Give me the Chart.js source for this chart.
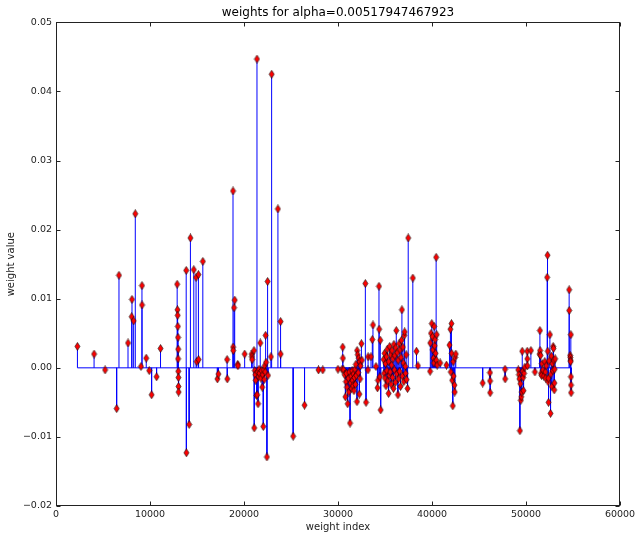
<!DOCTYPE html>
<html>
<head>
<meta charset="utf-8">
<script src="https://cdn.jsdelivr.net/npm/chart.js@4/dist/chart.umd.min.js"></script>
<style>
  html, body { margin: 0; padding: 0; background: #fff; }
</style>
</head>
<body>
<canvas id="weightsChart" width="638" height="534"></canvas>
<script>
// weight index / value pairs
const weightIndex = [
  2280, 4050, 5220, 6450, 6700, 7660, 8050, 8085, 8260, 8435, 9040, 9145, 9150, 9600, 9920, 10170, 10700, 11120,
  12890, 12920, 12940, 12960, 12980, 13000, 12990, 13010, 13020, 13030, 13040,
  13850, 13870, 14165, 14300, 14660, 14900, 14980, 15150, 15170, 15620, 17170, 17280, 18200, 18220,
  18830, 18840, 18850, 18940, 19010, 19330, 19350, 20070,
  20820, 20840, 20860, 21060, 21090, 21150, 21200, 21250, 21330, 21380, 21400, 21450, 21490, 21550, 21600, 21650,
  21730, 21800, 21850, 21940, 22000, 22050, 22100, 22150, 22200, 22250, 22300, 22350, 22440, 22510, 22550,
  22860, 22940, 23610, 23890, 23900, 25230, 26440, 27920, 28380, 30000,
  30430, 30500, 30520, 30600, 30700, 30790, 30850, 30900, 30950, 31030, 31100, 31150, 31200, 31280, 31350, 31400,
  31450, 31500, 31550, 31600, 31650, 31700, 31750, 31800, 31850, 31900, 31950, 32020, 32030, 32100, 32150, 32200,
  32270, 32300, 32350, 32400, 32490, 32550, 32910, 32980, 33190, 33200, 33510, 33650, 33720, 34040, 34200, 34250,
  34360, 34380, 34450, 34500, 34540,
  34850, 34900, 34950, 35000, 35050, 35100, 35150, 35200, 35250, 35300, 35380, 35400, 35450, 35500, 35550, 35600,
  35650, 35700, 35750, 35800, 35850, 35900, 35950, 36000, 36050, 36100, 36150, 36200, 36250, 36300, 36370, 36400,
  36450, 36500, 36550, 36600, 36650, 36700, 36750, 36800, 36850, 36900, 36950, 37000, 37050, 37090, 37150, 37200,
  37250, 37300, 37400, 37470, 37960, 38350, 38500,
  39800, 39820, 39900, 39980, 40050, 40100, 40150, 40200, 40230, 40280, 40320, 40380, 40440, 40460, 40500, 40550, 40870,
  41540, 41860, 41960, 42000, 42070, 42100, 42150, 42210, 42250, 42300, 42390, 42420, 42450, 42530,
  45390, 46170, 46180, 46190, 47770, 47780,
  49180, 49250, 49300, 49350, 49400, 49450, 49500, 49550, 49600, 49650, 49700, 49740, 49800, 49880,
  50130, 50140, 50150, 50520, 50950,
  51440, 51480, 51500, 51550, 51600, 51650, 51700, 51800, 51900, 52000, 52050, 52100, 52150, 52250, 52290, 52320,
  52350, 52380, 52400, 52450, 52540, 52610, 52650, 52700, 52750, 52800, 52850, 52890, 52930, 52970, 53000, 53020,
  53050, 53100,
  54590, 54600, 54700, 54720, 54740, 54750, 54770, 54780, 54790, 54800
];

const weightValue = [
  0.0031, 0.0020, -0.0003, -0.0059, 0.0134, 0.0036, 0.0074, 0.0099, 0.0068, 0.0223, 0.0002, 0.0119, 0.0091, 0.0014, -0.0004, -0.0039, -0.0013, 0.0028,
  0.0121, 0.0084, 0.0076, 0.0060, 0.0044, 0.0027, 0.0013, -0.0005, -0.0014, -0.0027, -0.0035,
  0.0141, -0.0123, -0.0082, 0.0188, 0.0142, 0.0131, 0.0009, 0.0135, 0.0012, 0.0154, -0.0016, -0.0009, 0.0012, -0.0016,
  0.0256, 0.0030, 0.0025, 0.0087, 0.0098, 0.0005, 0.0003, 0.0020,
  0.0020, 0.0016, 0.0012, 0.0025, -0.0087, -0.0004, -0.0010, -0.0018, -0.0040, 0.0447, -0.0039, -0.0006, -0.0052, -0.0013, -0.0002, -0.0008,
  0.0036, -0.0015, -0.0004, -0.0028, -0.0010, -0.0085, -0.0003, -0.0017, 0.0003, -0.0006, 0.0047, 0.0008, -0.0129, 0.0125, -0.0011,
  0.0016, 0.0425, 0.0230, 0.0067, 0.0020, -0.0099, -0.0054, -0.0003, -0.0003, -0.0002,
  -0.0002, 0.0030, 0.0014, -0.0003, -0.0010, -0.0042, -0.0020, -0.0008, -0.0028, -0.0052, -0.0015, -0.0035, -0.0006, -0.0080, -0.0022, -0.0012,
  -0.0030, -0.0004, -0.0018, -0.0026, -0.0009, -0.0033, -0.0014, -0.0002, -0.0024, 0.0005, -0.0011, -0.0049, 0.0025, 0.0019, -0.0007, 0.0014,
  -0.0038, 0.0009, -0.0016, 0.0003, 0.0035, 0.0011, 0.0122, -0.0050, -0.0003, 0.0016, 0.0016, 0.0041, 0.0062, 0.0002, -0.0029, -0.0018,
  0.0118, 0.0056, -0.0013, 0.0040, -0.0061,
  0.0012, -0.0008, 0.0021, -0.0015, 0.0006, -0.0026, 0.0016, -0.0004, 0.0027, -0.0019, -0.0037, 0.0009, -0.0011, 0.0031, -0.0006, 0.0019,
  -0.0024, 0.0004, 0.0025, -0.0014, 0.0013, -0.0030, 0.0034, -0.0003, 0.0018, -0.0021, 0.0029, 0.0054, -0.0009, 0.0022, -0.0039, 0.0011,
  -0.0016, 0.0035, -0.0005, 0.0026, -0.0027, 0.0015, 0.0040, 0.0084, -0.0012, 0.0030, 0.0007, -0.0020, 0.0047, 0.0052, 0.0002, -0.0008,
  0.0019, -0.0017, -0.0030, 0.0188, 0.0130, 0.0024, 0.0003,
  -0.0005, 0.0036, 0.0050, 0.0064, 0.0045, 0.0026, 0.0014, 0.0007, 0.0060, 0.0032, 0.0041, 0.0021, 0.0160, 0.0011, 0.0048, 0.0004, 0.0007,
  0.0004, 0.0033, 0.0056, -0.0006, 0.0064, 0.0021, -0.0018, -0.0055, 0.0009, -0.0012, -0.0025, -0.0035, 0.0015, 0.0020,
  -0.0022, -0.0007, -0.0019, -0.0036, -0.0002, -0.0016,
  -0.0003, -0.0010, -0.0016, -0.0091, -0.0023, -0.0047, -0.0042, -0.0035, 0.0024, -0.0005, -0.0014, -0.0033, -0.0008, 0.0001,
  0.0024, 0.0013, 0.0003, 0.0025, -0.0006,
  0.0020, 0.0054, 0.0025, 0.0018, -0.0008, -0.0011, 0.0006, -0.0003, -0.0012, 0.0009, -0.0006, -0.0015, 0.0003, 0.0131, 0.0163, 0.0024,
  -0.0020, -0.0015, -0.0050, 0.0010, 0.0048, -0.0066, -0.0009, 0.0017, -0.0027, 0.0006, -0.0004, 0.0031, 0.0028, 0.0011, -0.0032, -0.0022,
  -0.0002, 0.0013,
  0.0113, 0.0083, 0.0018, 0.0015, 0.0011, 0.0009, 0.0048, -0.0013, -0.0025, -0.0036
];

const xTicks = [0, 10000, 20000, 30000, 40000, 50000, 60000];
const yTicks = [-0.02, -0.01, 0.00, 0.01, 0.02, 0.03, 0.04, 0.05];

const FONT = 'DejaVu Sans';

// --- build datasets from the arrays ---
const markerPoints = weightIndex.map((x, i) => ({ x: x, y: weightValue[i] }));

const stemPoints = [];
weightIndex.forEach((x, i) => {
    stemPoints.push({ x: x, y: 0 });
    stemPoints.push({ x: x, y: weightValue[i] });
    stemPoints.push({ x: x, y: null });
});

const baseLine = [
    { x: Math.min(...weightIndex), y: 0 },
    { x: Math.max(...weightIndex), y: 0 }
];

// thin diamond marker, red with a black edge
function makeDiamond() {
    const c = document.createElement('canvas');
    const w = 7, h = 9;
    c.width = w; c.height = h;
    const g = c.getContext('2d');
    g.beginPath();
    g.moveTo(w / 2, 0.5);
    g.lineTo(w - 1, h / 2);
    g.lineTo(w / 2, h - 0.5);
    g.lineTo(1, h / 2);
    g.closePath();
    g.fillStyle = '#ff0000';
    g.fill();
    g.lineWidth = 0.6;
    g.strokeStyle = '#000000';
    g.stroke();
    return c;
}

function fmtY(v) {
    if (Math.abs(v) < 1e-9) return '0.00';
    const s = v.toFixed(2);
    return s.replace('-', '\u2212');
}

// frame and inward ticks like matplotlib's classic axes
const framePlugin = {
    id: 'frame',
    afterDraw(chart) {
        const { ctx, chartArea: a, scales } = chart;
        ctx.save();
        ctx.strokeStyle = '#222';
        ctx.lineWidth = 1;
        const L = Math.round(a.left) + 0.5, R = Math.round(a.right) - 0.5;
        const T = Math.round(a.top) + 0.5, B = Math.round(a.bottom) - 0.5;
        ctx.strokeRect(L, T, R - L, B - T);
        const len = 4;
        ctx.beginPath();
        xTicks.forEach(v => {
            const px = Math.round(scales.x.getPixelForValue(v)) + 0.5;
            ctx.moveTo(px, B); ctx.lineTo(px, B - len);
            ctx.moveTo(px, T); ctx.lineTo(px, T + len);
        });
        yTicks.forEach(v => {
            const py = Math.round(scales.y.getPixelForValue(v)) + 0.5;
            ctx.moveTo(L, py); ctx.lineTo(L + len, py);
            ctx.moveTo(R, py); ctx.lineTo(R - len, py);
        });
        ctx.stroke();
        ctx.restore();
    }
};

const ctx = document.getElementById('weightsChart').getContext('2d');
new Chart(ctx, {
    type: 'scatter',
    data: {
        datasets: [
            {
                label: 'weights',
                data: markerPoints,
                pointStyle: makeDiamond(),
                pointRadius: 4,
                showLine: false,
                order: 0
            },
            {
                label: 'baseline',
                data: baseLine,
                showLine: true,
                borderColor: '#0000ff',
                borderWidth: 1,
                pointRadius: 0,
                order: 1
            },
            {
                label: 'stems',
                data: stemPoints,
                showLine: true,
                spanGaps: false,
                borderColor: '#0000ff',
                borderWidth: 1,
                pointRadius: 0,
                order: 2
            }
        ]
    },
    options: {
        responsive: false,
        animation: false,
        layout: { padding: 0 },
        plugins: {
            legend: { display: false },
            tooltip: { enabled: false },
            title: {
                display: true,
                fullSize: false,
                text: 'weights for alpha=0.00517947467923',
                color: '#000',
                font: { family: FONT, size: 12, weight: 'normal' },
                padding: { top: 6, bottom: 2 }
            }
        },
        scales: {
            x: {
                type: 'linear',
                min: 0,
                max: 60000,
                afterBuildTicks: (scale) => { scale.ticks = xTicks.map(v => ({ value: v })); },
                afterFit: (scale) => {
                    scale.height = 28;
                    scale.paddingLeft = 0;
                    scale.paddingRight = 18;
                },
                grid: { display: false, drawTicks: false, tickLength: 0 },
                border: { display: false },
                ticks: {
                    color: '#222',
                    font: { family: FONT, size: 9.5 },
                    padding: 3,
                    maxRotation: 0,
                    autoSkip: false,
                    callback: (v) => String(v)
                },
                title: {
                    display: true,
                    text: 'weight index',
                    color: '#222',
                    font: { family: FONT, size: 10 },
                    padding: { top: 0, bottom: 1 }
                }
            },
            y: {
                type: 'linear',
                min: -0.02,
                max: 0.05,
                afterBuildTicks: (scale) => { scale.ticks = yTicks.map(v => ({ value: v })); },
                afterFit: (scale) => { scale.width = 56; },
                grid: { display: false, drawTicks: false, tickLength: 0 },
                border: { display: false },
                ticks: {
                    color: '#222',
                    font: { family: FONT, size: 9.5 },
                    padding: 4,
                    autoSkip: false,
                    callback: (v) => fmtY(v)
                },
                title: {
                    display: true,
                    text: 'weight value',
                    color: '#222',
                    font: { family: FONT, size: 10 },
                    padding: { top: 5, bottom: 0 }
                }
            }
        }
    },
    plugins: [framePlugin]
});
</script>
</body>
</html>
